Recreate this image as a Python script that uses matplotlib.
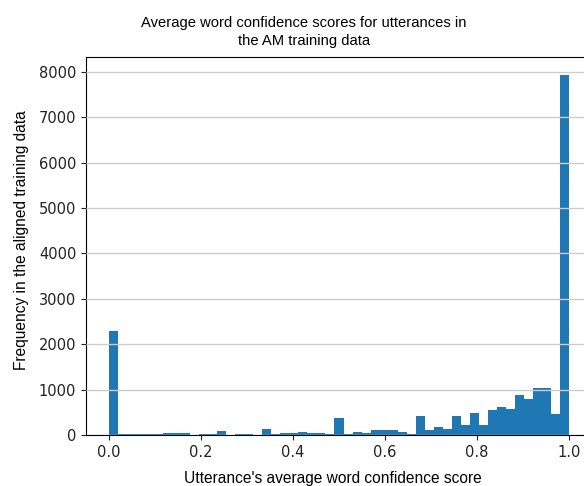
import matplotlib
matplotlib.use("Agg")
import matplotlib.pyplot as plt
import numpy as np

# counts per bin (51 equal bins over 0..1)
counts = [2280, 15, 15, 15, 15, 20, 45, 45, 45, 5,
          30, 15, 90, 10, 30, 15, 5, 130, 15, 40,
          55, 60, 38, 38, 15, 365, 15, 65, 38, 108,
          110, 115, 70, 12, 410, 114, 182, 130, 410, 220,
          485, 220, 545, 620, 580, 875, 790, 1040, 1040, 465,
          7930]
n_bins = len(counts)
edges = np.linspace(0, 1, n_bins + 1)

title = "Average word confidence scores for utterances in\nthe AM training data"
xlabel = "Utterance's average word confidence score"
ylabel = "Frequency in the aligned training data"

W, H = 584, 486
fig = plt.figure(figsize=(W / 100, H / 100), dpi=100)
ax = fig.add_axes([86 / W, (H - 435) / H, 506 / W, (435 - 57) / H])

ax.hist(edges[:-1], bins=edges, weights=counts, color="#1f77b4")
ax.set_xlim(-0.05, 1.05)
ax.set_ylim(0, max(counts) * 1.05)

ax.yaxis.grid(True, color="#cccccc", linewidth=1)
ax.set_axisbelow(False)
ax.set_xticks([0.0, 0.2, 0.4, 0.6, 0.8, 1.0])
ax.set_yticks(range(0, 8001, 1000))
ax.tick_params(labelsize=10.5, colors="#222222", labelcolor="#222222")

fam = ["Liberation Sans", "DejaVu Sans"]
ax.set_xlabel(xlabel, family=fam, fontsize=11.2)
ax.xaxis.set_label_coords((333 - 86) / 506, -36 / 378, transform=ax.transAxes)
ax.set_ylabel(ylabel, family=fam, fontsize=11.2)
ax.yaxis.set_label_coords(-57 / 506, (435 - 240) / 378)

fig.text(304 / W, 1 - 16 / H, title, ha="center", va="top",
         linespacing=1.4, family=fam, fontsize=10.6)

fig.savefig("out.png", dpi=100)
